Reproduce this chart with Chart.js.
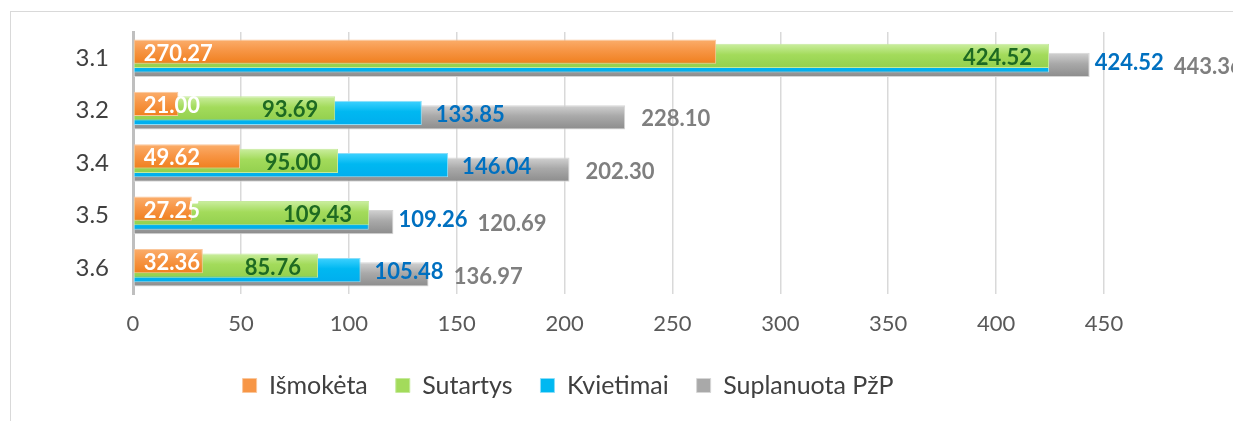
<!DOCTYPE html>
<html>
<head>
<meta charset="utf-8">
<script src="https://cdn.jsdelivr.net/npm/chart.js@4.4.1/dist/chart.umd.min.js"></script>
<style>
  html, body { margin: 0; padding: 0; background: #fff; overflow: hidden; }
</style>
</head>
<body>
<canvas id="chart" width="1233" height="421"></canvas>
<script>
const categories = ['3.1', '3.2', '3.4', '3.5', '3.6'];
const seriesNames = ['Išmokėta', 'Sutartys', 'Kvietimai', 'Suplanuota PžP'];
const ismoketa = [270.27, 21.00, 49.62, 27.25, 32.36];
const sutartys = [424.52, 93.69, 95.00, 109.43, 85.76];
const kvietimai = [424.52, 133.85, 146.04, 109.26, 105.48];
const suplanuota = [443.36, 228.10, 202.30, 120.69, 136.97];
const xMin = 0;
const xMax = 450;
const xStep = 50;

// fill, gradient top, gradient bottom, border, label colour
const palette = [
  { fill: '#F79646', top: '#FBAE6C', bottom: '#F07F1E', border: '#FAC79C', label: '#FFFFFF' },
  { fill: '#A3DB5B', top: '#CBEEA0', bottom: '#93D04E', border: '#C5EA9C', label: '#1E6A22' },
  { fill: '#00B8F1', top: '#3FD2FF', bottom: '#00AEEE', border: '#8ADDF8', label: '#0070C0' },
  { fill: '#A9A9A9', top: '#D2D2D2', bottom: '#8C8C8C', border: '#D6D6D6', label: '#7F7F7F' }
];

const values = [ismoketa, sutartys, kvietimai, suplanuota];

const datasets = seriesNames.map((name, i) => ({
  label: name,
  data: values[i],
  backgroundColor: palette[i].fill,
  borderColor: palette[i].border,
  borderWidth: 1,
  borderSkipped: false,
  categoryPercentage: 0.34,
  barPercentage: 5.45
}));

// Excel-like vertical gradient on every bar
const gradientBars = {
  id: 'gradientBars',
  beforeDatasetsDraw(chart) {
    const ctx = chart.ctx;
    chart.data.datasets.forEach((ds, i) => {
      chart.getDatasetMeta(i).data.forEach((bar) => {
        const top = bar.y - bar.height / 2;
        const g = ctx.createLinearGradient(0, top, 0, top + bar.height);
        g.addColorStop(0, palette[i].top);
        g.addColorStop(0.45, palette[i].fill);
        g.addColorStop(1, palette[i].bottom);
        bar.options = Object.assign({}, bar.options, { backgroundColor: g });
      });
    });
  }
};

const valueLabels = {
  id: 'valueLabels',
  afterDatasetsDraw(chart) {
    const ctx = chart.ctx;
    const metas = chart.data.datasets.map((d, i) => chart.getDatasetMeta(i).data);
    ctx.save();
    ctx.font = 'bold 22px Lato';
    ctx.textBaseline = 'middle';
    categories.forEach((c, j) => {
      const [o, g, b, s] = metas.map((m) => m[j]);
      const txt = values.map((v) => v[j].toFixed(2));

      ctx.textAlign = 'left';
      ctx.fillStyle = palette[0].label;
      ctx.fillText(txt[0], o.base + 10, o.y + 2);

      ctx.textAlign = 'right';
      ctx.fillStyle = palette[1].label;
      ctx.fillText(txt[1], g.x - 17, g.y + 2);

      ctx.textAlign = 'left';
      const bw = ctx.measureText(txt[2]).width;
      let bx = b.x + 14;
      if (bx < s.x && s.x < bx + bw / 2) bx = s.x + 5;
      ctx.fillStyle = palette[2].label;
      ctx.fillText(txt[2], bx, b.y + 2);

      const sx = Math.max(s.x + 16, bx + bw + 10);
      ctx.fillStyle = palette[3].label;
      ctx.fillText(txt[3], sx, s.y + 2);
    });
    ctx.restore();
  }
};

const frame = {
  id: 'frame',
  beforeDraw(chart) {
    const ctx = chart.ctx;
    ctx.save();
    ctx.strokeStyle = '#D9D9D9';
    ctx.lineWidth = 1;
    ctx.strokeRect(10.5, 11.5, 1400, 600);
    ctx.restore();
  },
  afterLayout(chart) {
    // legend row sits a little right of the canvas centre
    chart.legend.left += 16;
    chart.legend.right += 16;
  }
};

new Chart('chart', {
  type: 'bar',
  data: { labels: categories, datasets: datasets },
  options: {
    indexAxis: 'y',
    responsive: false,
    animation: false,
    layout: { padding: { top: 32, right: 129, bottom: 13, left: 0 } },
    plugins: {
      tooltip: { enabled: false },
      legend: {
        position: 'bottom',
        labels: {
          boxWidth: 14,
          boxHeight: 14,
          padding: 28,
          color: '#404040',
          font: { family: 'Lato', size: 25 }
        }
      }
    },
    scales: {
      x: {
        min: xMin,
        max: xMax,
        ticks: {
          stepSize: xStep,
          padding: 17,
          color: '#595959',
          font: { family: 'Lato', size: 22 }
        },
        grid: { color: '#D9D9D9', lineWidth: 1.5, drawTicks: false },
        border: { display: false },
        afterFit(scale) { scale.height = 51; }
      },
      y: {
        ticks: {
          padding: 24,
          color: '#404040',
          font: { family: 'Lato', size: 24 }
        },
        grid: { display: false, drawTicks: false },
        border: { color: '#BFBFBF', width: 3 },
        afterFit(scale) {
          scale.width = 133;
          scale.paddingTop = 0;
          scale.paddingBottom = 0;
        }
      }
    }
  },
  plugins: [frame, gradientBars, valueLabels]
});
</script>
</body>
</html>
